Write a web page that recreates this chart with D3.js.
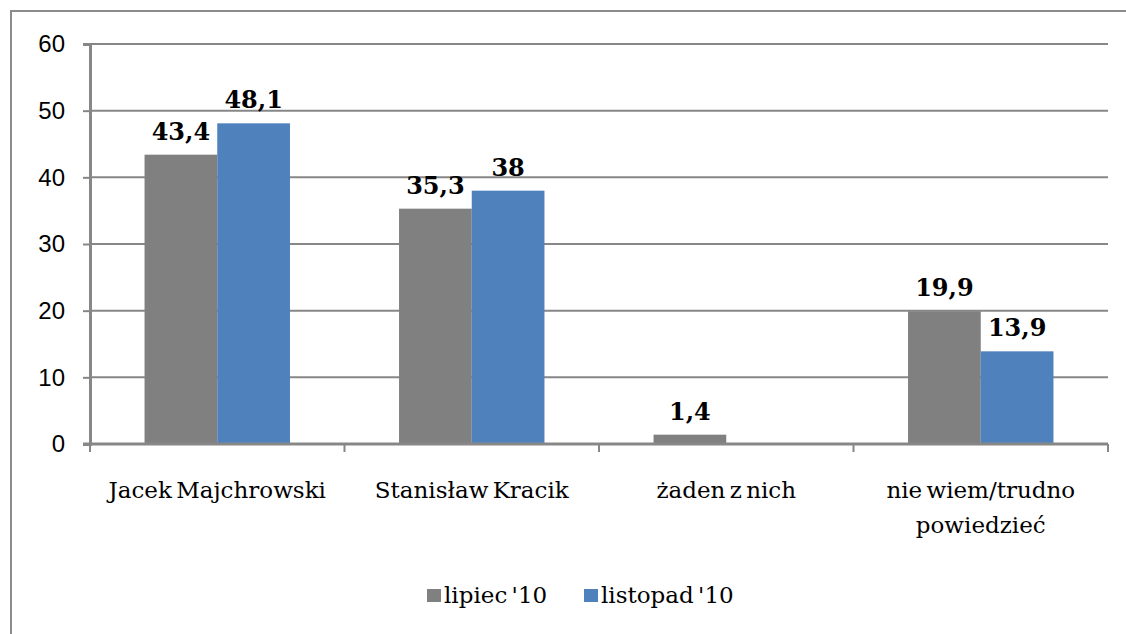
<!DOCTYPE html>
<html><head><meta charset="utf-8">
<script src="https://cdn.jsdelivr.net/npm/d3@7"></script>
<style>body{margin:0;background:#fff}svg{display:block}</style>
</head><body><svg id="c" width="1126" height="634"></svg>
<script>
const categories = [["Jacek Majchrowski"], ["Stanisław Kracik"], ["żaden z nich"], ["nie wiem/trudno", "powiedzieć"]];
const seriesNames = ["lipiec '10", "listopad '10"];
const lipiec = [43.4, 35.3, 1.4, 19.9];
const listopad = [48.1, 38, null, 13.9];
const labelsLipiec = ["43,4", "35,3", "1,4", "19,9"];
const labelsListopad = ["48,1", "38", "", "13,9"];
const yTicks = [0, 10, 20, 30, 40, 50, 60];
const colors = ["#808080", "#4f81bd"];

(function () {
const svg = d3.select("#c");
const pl = 90, pr = 1108, pt = 44, pb = 444;
const serif = "DejaVu Serif";

// outer border
svg.append("path").attr("d", "M11,640 V11 H1130").attr("fill", "none").attr("stroke", "#8c8c8c").attr("stroke-width", 2);

const x = d3.scaleBand().domain(d3.range(categories.length)).range([pl, pr]).paddingInner(0).paddingOuter(0);
const y = d3.scaleLinear().domain([0, 60]).range([pb, pt]);
const bw = x.bandwidth() / 3.5;
const x1 = d3.scaleBand().domain([0, 1]).range([0, 2 * bw]);

// gridlines
svg.append("g").selectAll("line").data(yTicks.filter(d => d > 0)).join("line")
  .attr("x1", pl).attr("x2", pr).attr("y1", d => y(d)).attr("y2", d => y(d))
  .attr("stroke", "#878787").attr("stroke-width", 2);

// y axis
const ya = svg.append("g").attr("transform", `translate(${pl},0)`)
  .call(d3.axisLeft(y).tickValues(yTicks).tickSize(7).tickPadding(18));
ya.select(".domain").attr("stroke", "#878787").attr("stroke-width", 3);
ya.selectAll(".tick line").attr("stroke", "#878787").attr("stroke-width", 2);
ya.selectAll(".tick text").attr("font-family", "Liberation Sans").attr("font-size", 24).attr("fill", "#000");

// bars
const series = [lipiec, listopad];
const labels = [labelsLipiec, labelsListopad];
series.forEach((vals, si) => {
  const g = svg.append("g");
  g.selectAll("rect").data(vals.map((v, i) => ({v, i})).filter(d => d.v != null)).join("rect")
    .attr("x", d => x(d.i) + 0.75 * bw + x1(si)).attr("width", bw)
    .attr("y", d => y(d.v)).attr("height", d => y(0) - y(d.v)).attr("fill", colors[si]);
  g.selectAll("text").data(vals.map((v, i) => ({v, i, t: labels[si][i]})).filter(d => d.v != null)).join("text")
    .attr("x", d => x(d.i) + 0.75 * bw + x1(si) + bw / 2).attr("y", d => y(d.v) - 15)
    .attr("text-anchor", "middle").attr("font-family", serif).attr("font-weight", "bold")
    .attr("font-size", 24).text(d => d.t);
});

// x axis
const xa = svg.append("g").attr("transform", `translate(0,${pb})`);
xa.append("line").attr("x1", pl - 7).attr("x2", pr).attr("stroke", "#878787").attr("stroke-width", 3);
xa.selectAll("line.t").data(d3.range(categories.length + 1)).join("line").attr("class", "t")
  .attr("x1", i => pl + i * x.bandwidth()).attr("x2", i => pl + i * x.bandwidth())
  .attr("y1", 0).attr("y2", 8).attr("stroke", "#878787").attr("stroke-width", 2);
categories.forEach((lines, i) => {
  const t = xa.append("text").attr("text-anchor", "middle").attr("font-family", serif)
    .attr("font-size", 23).attr("word-spacing", -3)
    .attr("x", x(i) + x.bandwidth() / 2).attr("y", 54);
  lines.forEach((l, k) => t.append("tspan").attr("x", x(i) + x.bandwidth() / 2).attr("dy", k ? 35 : 0).text(l));
});

// legend
const leg = svg.append("g");
const legX = [427, 584];
seriesNames.forEach((n, i) => {
  leg.append("rect").attr("x", legX[i]).attr("y", 589).attr("width", 14).attr("height", 13).attr("fill", colors[i]);
  leg.append("text").attr("x", legX[i] + 17).attr("y", 603).attr("font-family", serif)
    .attr("font-size", 23).attr("word-spacing", -3).text(n);
});
})();
</script></body></html>
